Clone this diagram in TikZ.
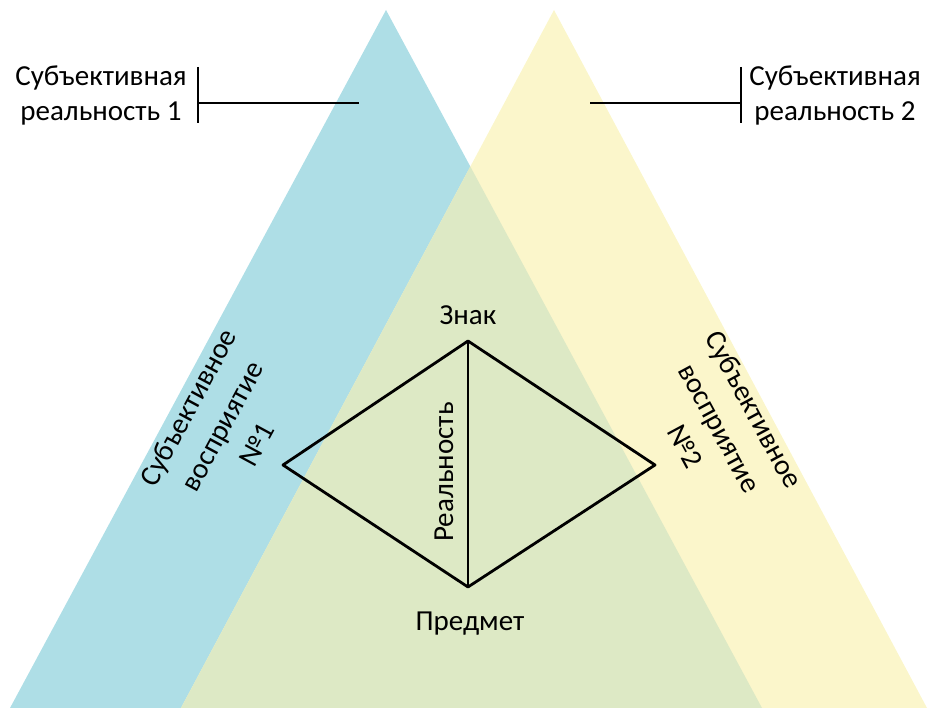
\documentclass[tikz,border=0pt]{standalone}
\usepackage{fontspec}
\setmainfont{Carlito}
\usepackage{tikz}
\usetikzlibrary{positioning,calc}
\usepackage{xcolor}
\definecolor{srBlue}{HTML}{AEDEE6}
\definecolor{srYellow}{HTML}{FBF6CB}
\definecolor{srOverlap}{HTML}{DDE9C5}
\tikzset{
    every picture/.style={
        x=1pt, y=-1pt,
        font=\fontsize{29}{35}\selectfont
    },
    % Label styles
    label/.style={align=center, inner sep=0pt},
    slanted/.style={label, font=\fontsize{29}{39}\selectfont},
    tick/.style={draw=black, line width=2.8pt},
    edge/.style={draw=black, line width=2.8pt, line join=round}
}

\begin{document}
\begin{tikzpicture}

    \useasboundingbox (0,0) rectangle (929,708);

    % Triangles
    \fill[srBlue] (10,708) -- (386,10) -- (762,708) -- cycle;
    \fill[srYellow] (181,708) -- (554,10) -- (927,708) -- cycle;
    \begin{scope}
        \clip (10,708) -- (386,10) -- (762,708) -- cycle;
        \fill[srOverlap] (181,708) -- (554,10) -- (927,708) -- cycle;
    \end{scope}

    % Subjective realities
    \node[label] (real1) at (101,95) {Субъективная\\реальность 1};
    \node[label] (real2) at (835,95) {Субъективная\\реальность 2};
    \coordinate (bar1top) at (198,67);
    \coordinate (bar1bot) at (198,123);
    \coordinate (bar1mid) at (198,103);
    \coordinate (tip1) at (359,103);
    \coordinate (bar2top) at (741,67);
    \coordinate (bar2bot) at (741,123);
    \coordinate (bar2mid) at (741,103);
    \coordinate (tip2) at (590,103);
    \draw[tick] (bar1top) -- (bar1bot);
    \draw[tick] (bar1mid) -- (tip1);
    \draw[tick] (bar2top) -- (bar2bot);
    \draw[tick] (bar2mid) -- (tip2);

    % Diamond
    \coordinate (sign) at (468,341);
    \coordinate (subj1) at (283,465);
    \coordinate (object) at (468,587);
    \coordinate (subj2) at (655,465);
    \draw[edge] (sign) -- (subj1) -- (object) -- (subj2) -- cycle;
    \draw[edge] (sign) -- (object);

    % Labels
    \node[label] (signlbl) at (468,315) {Знак};
    \node[label] (objlbl) at (470,624) {Предмет};
    \node[label, rotate=90] (reallbl) at (444,472) {Реальность};
    \node[slanted, rotate=61.6] (perc1) at (222,426) {Субъективное\\восприятие\\№1};
    \node[slanted, rotate=-61.6] (perc2) at (720,428) {Субъективное\\восприятие\\№2};

\end{tikzpicture}
\end{document}
